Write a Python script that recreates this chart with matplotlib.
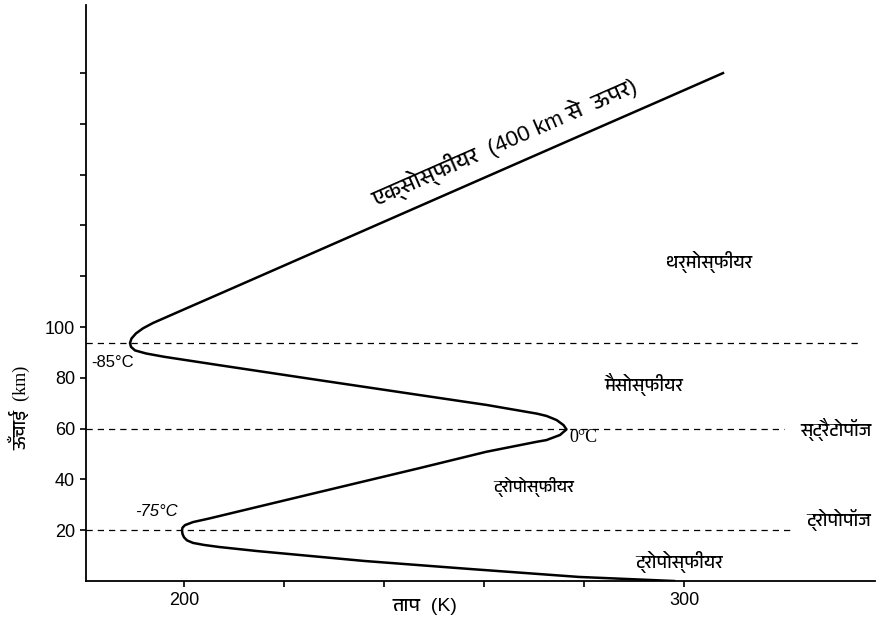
import matplotlib
matplotlib.use("Agg")
import matplotlib.pyplot as plt
from matplotlib import font_manager
from matplotlib.ft2font import FT2Font

# temperature profile (K, km), surface -> top
temp_k = [298.0, 279.0, 257.4, 236.0, 214.6, 207.0, 204.0, 201.8, 200.6, 200.0, 199.7, 199.6,
          199.7, 200.2, 201.8, 205.0, 227.0, 247.2, 260.5, 270.5, 272.5, 275.2, 276.5,
          275.9, 274.5, 272.5, 270.6, 260.6, 247.2, 227.0, 207.0, 196.0, 192.4, 190.2, 189.4, 189.2,
          189.5, 190.4, 191.8, 193.8, 200.4, 209.0, 277.2, 295.2, 307.8]
height_km = [0.0, 1.6, 4.7, 7.9, 11.8, 13.4, 14.2, 15.0, 16.0, 17.2, 18.5, 20.0,
             21.0, 22.0, 23.2, 24.6, 35.0, 44.5, 50.9, 54.8, 55.5, 57.5, 59.7,
             61.4, 63.4, 65.0, 65.9, 69.3, 73.2, 79.1, 85.0, 88.3, 89.6, 90.8, 92.2, 93.7,
             95.5, 97.5, 99.5, 101.6, 107.3, 114.7, 173.6, 189.1, 200.0]

# boundary heights (km) and how far right each dashed line runs (K)
pause_km = [20.0, 59.7, 93.7]
pause_end_k = [322.0, 320.0, 335.5]

x_ticks = [200, 220, 240, 260, 280, 300]
x_labels = ["200", "", "", "", "", "300"]
y_ticks = [20, 40, 60, 80, 100, 120, 140, 160, 180, 200]
y_labels = ["20", "40", "60", "80", "100", "", "", "", "", ""]


def deva_font():
    found = []
    for f in font_manager.fontManager.ttflist:
        try:
            if FT2Font(f.fname).get_char_index(ord("\u0915")):
                found.append(f.name)
        except Exception:
            pass
    for key in ("Devanagari", "Lohit", "Mukta", "Gargi", "Kalimati", "FreeSerif", "FreeSans"):
        for n in found:
            if key in n:
                return n
    return found[0] if found else "DejaVu Sans"


dv = deva_font()
hi = ["Liberation Serif", dv, "DejaVu Sans"]
hi_sans = ["Liberation Sans", dv, "DejaVu Sans"]
lat = ["Liberation Sans", "DejaVu Sans"]

fig = plt.figure(figsize=(8.84, 6.29), dpi=100)
ax = fig.add_axes([0.0973, 0.0763, 0.8925, 0.9157])

ax.plot(temp_k, height_km, color="black", lw=1.8, solid_joinstyle="round")
for z, xe in zip(pause_km, pause_end_k):
    ax.plot([180.4, xe], [z, z], color="black", lw=0.9, ls=(0, (5, 4)))

ax.set_xlim(180.4, 338.2)
ax.set_ylim(0, 226.8)
for s in ("top", "right"):
    ax.spines[s].set_visible(False)
ax.spines["left"].set_linewidth(1.3)
ax.spines["bottom"].set_linewidth(1.3)
ax.set_xticks(x_ticks)
ax.set_xticklabels(x_labels, fontfamily=lat, fontsize=13)
ax.set_yticks(y_ticks)
ax.set_yticklabels(y_labels, fontfamily=lat, fontsize=13)
ax.tick_params(length=4, width=1.2, pad=4)

# axis titles
fig.text(0.481, 0.035, "ताप  (K)", ha="center", va="center", fontfamily=hi_sans, fontsize=14)
ax.text(-0.085, 0.30, "ऊँचाई  (km)", transform=ax.transAxes, rotation=90,
        ha="center", va="center", fontfamily=hi, fontsize=13)

ax.text(264.2, 172.8, "एक्सोस्फीयर  (400 km से  ऊपर)", rotation=23.7,
        ha="center", va="center", fontfamily=hi_sans, fontsize=16, rotation_mode="anchor")
ax.text(305.0, 125.5, "थर्मोस्फीयर", ha="center", va="center", fontfamily=hi, fontsize=13)
ax.text(292.0, 77.5, "मैसोस्फीयर", ha="center", va="center", fontfamily=hi, fontsize=13)
ax.text(337.5, 59.5, "स्ट्रैटोपॉज", ha="right", va="center", fontfamily=hi, fontsize=13)
ax.text(270.0, 37.0, "ट्रोपोस्फीयर", ha="center", va="center", fontfamily=hi, fontsize=12)
ax.text(337.5, 24.0, "ट्रोपोपॉज", ha="right", va="center", fontfamily=hi, fontsize=13)
ax.text(299.0, 7.5, "ट्रोपोस्फीयर", ha="center", va="center", fontfamily=hi, fontsize=13)

ax.text(277.0, 56.5, "0°C", ha="left", va="center",
        fontfamily=["Liberation Serif", "DejaVu Serif"], fontsize=13)
ax.text(181.5, 86.0, "-85°C", ha="left", va="center", fontfamily=lat, fontsize=12)
ax.text(194.5, 27.5, "-75°C", ha="center", va="center", fontfamily=lat, fontsize=12,
        style="italic")

fig.savefig("out.png", dpi=100)
